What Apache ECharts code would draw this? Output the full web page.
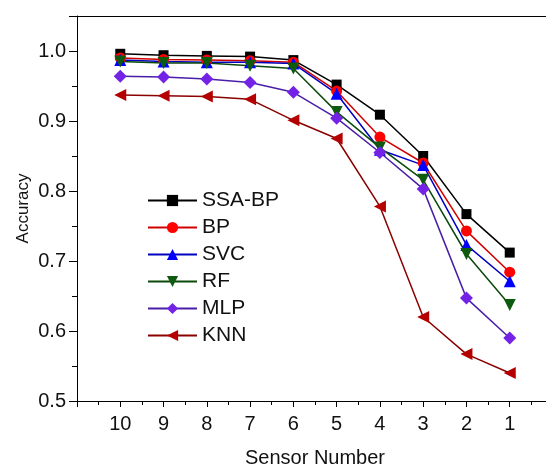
<!DOCTYPE html>
<html><head><meta charset="utf-8">
<script src="https://cdn.jsdelivr.net/npm/echarts@6/dist/echarts.min.js"></script>
<style>html,body{margin:0;padding:0;background:#fff}#c{width:546px;height:464px}</style>
</head><body><div id="c"></div>
<script>
const sensors = [10, 9, 8, 7, 6, 5, 4, 3, 2, 1];
const ssaBP = [0.996, 0.994, 0.993, 0.992, 0.987, 0.952, 0.909, 0.850, 0.767, 0.712];
const bp    = [0.990, 0.988, 0.987, 0.986, 0.984, 0.943, 0.877, 0.840, 0.743, 0.684];
const svc   = [0.987, 0.985, 0.984, 0.984, 0.982, 0.939, 0.859, 0.837, 0.723, 0.671];
const rf    = [0.985, 0.983, 0.983, 0.979, 0.975, 0.913, 0.862, 0.816, 0.710, 0.637];
const mlp   = [0.964, 0.963, 0.960, 0.955, 0.941, 0.904, 0.855, 0.803, 0.647, 0.590];
const knn   = [0.937, 0.936, 0.935, 0.931, 0.901, 0.875, 0.778, 0.620, 0.567, 0.540];
const yTicks = [0.5, 0.6, 0.7, 0.8, 0.9, 1.0];

const FONT = 'Liberation Sans';
function mk(name, data, color, lineColor, symbol, size, rot) {
  return {
    name, type: 'line', data: sensors.map((s, i) => [s, data[i]]),
    symbol, symbolSize: size, symbolRotate: rot || 0,
    itemStyle: { color: color, borderWidth: 0 },
    lineStyle: { color: lineColor, width: 1.5 },
    emphasis: { disabled: true }, animation: false
  };
}
const series = [
  mk('SSA-BP', ssaBP, '#000000', '#000000', 'rect', 10),
  mk('BP', bp, '#ff0000', '#d00000', 'circle', 11),
  mk('SVC', svc, '#0000ff', '#0000c0', 'triangle', 12),
  mk('RF', rf, '#0e5a0e', '#0b4a0b', 'triangle', 12, 180),
  mk('MLP', mlp, '#7422e6', '#4a1fa8', 'diamond', 13),
  mk('KNN', knn, '#b40000', '#8a0000', 'triangle', 12, 90)
];
const chart = echarts.init(document.getElementById('c'), null, { renderer: 'canvas' });
chart.setOption({
  animation: false,
  backgroundColor: '#fff',
  grid: { left: 77, top: 16, width: 476, height: 385, show: false,
          containLabel: false, outerBoundsMode: 'none' },
  legend: {
    orient: 'vertical', left: 142, top: 185,
    itemWidth: 49, itemHeight: 14, itemGap: 6,
    textStyle: { fontFamily: FONT, fontSize: 21, color: '#111', lineHeight: 20 },
    data: series.map(s => s.name)
  },
  xAxis: [{
    type: 'value', inverse: true, min: 0, max: 11, interval: 1, position: 'bottom',
    name: 'Sensor Number', nameLocation: 'middle', nameGap: 47, nameMoveOverlap: false,
    nameTextStyle: { fontFamily: FONT, fontSize: 20, color: '#111' },
    axisLine: { show: true, onZero: false, lineStyle: { color: '#000', width: 1 } },
    axisTick: { inside: false, length: 6, lineStyle: { color: '#000' } },
    minorTick: { show: true, splitNumber: 2, length: 4, lineStyle: { color: '#000' } },
    splitLine: { show: false },
    axisLabel: { fontFamily: FONT, fontSize: 20, color: '#111', margin: 13,
      formatter: v => (v >= 1 && v <= 10) ? String(v) : '' }
  }, {
    type: 'value', position: 'top', inverse: true, min: 0, max: 11,
    axisLine: { show: true, onZero: false, lineStyle: { color: '#000', width: 1 } },
    axisTick: { show: false }, axisLabel: { show: false }, splitLine: { show: false }
  }],
  yAxis: {
    type: 'value', min: 0.5, max: 1.05, interval: 0.1, position: 'left',
    name: 'Accuracy', nameLocation: 'middle', nameGap: 45, nameRotate: 90, nameMoveOverlap: false,
    nameTextStyle: { fontFamily: FONT, fontSize: 17, color: '#111' },
    axisLine: { show: true, onZero: false, lineStyle: { color: '#000', width: 1 } },
    axisTick: { inside: false, length: 8, lineStyle: { color: '#000' } },
    minorTick: { show: true, splitNumber: 2, length: 5, lineStyle: { color: '#000' } },
    splitLine: { show: false },
    axisLabel: { fontFamily: FONT, fontSize: 20, color: '#111', margin: 11,
      showMaxLabel: false,
      formatter: v => yTicks.some(t => Math.abs(t - v) < 1e-6) ? v.toFixed(1) : '' }
  },
  series
});
</script></body></html>
